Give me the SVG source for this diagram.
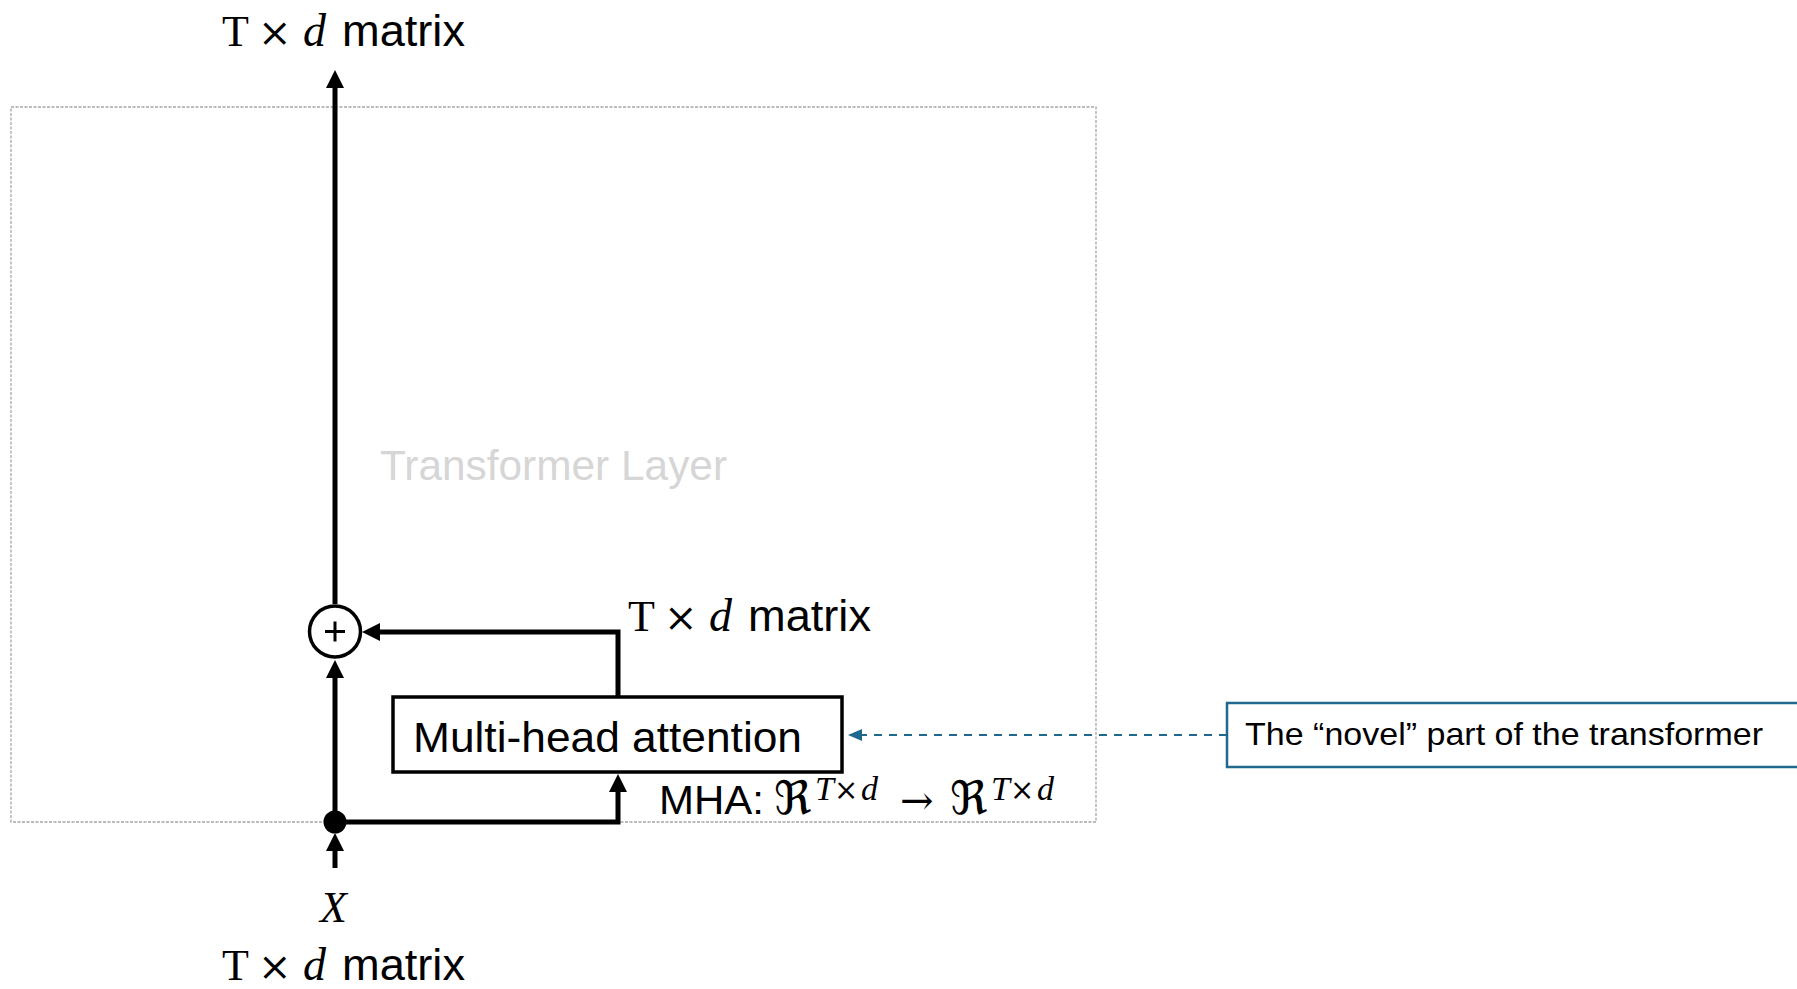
<svg xmlns="http://www.w3.org/2000/svg" width="1797" height="989" viewBox="0 0 1797 989">
  <style>
    .serif { font-family: "Liberation Serif", "DejaVu Serif", serif; fill: #000; }
    .sans { font-family: "Liberation Sans", Arial, sans-serif; fill: #000; }
    .frak { font-family: "DejaVu Serif", "DejaVu Sans", serif; fill: #000; }
    .wire { fill: none; stroke: #000; stroke-width: 5; stroke-linejoin: miter; }
    .note { fill: none; stroke: #1f6a8c; stroke-width: 2; stroke-dasharray: 8 7; }
  </style>
  <defs>
    <marker id="head" markerUnits="userSpaceOnUse" markerWidth="18" markerHeight="18" refX="8" refY="9" orient="auto">
      <path d="M0,0 L18,9 L0,18 Z" fill="#000"/>
    </marker>
    <marker id="headTeal" markerUnits="userSpaceOnUse" markerWidth="14" markerHeight="12" refX="2" refY="6" orient="auto">
      <path d="M0,0 L14,6 L0,12 Z" fill="#1f6a8c"/>
    </marker>
  </defs>

  <rect width="1797" height="989" fill="#fff"/>

  <!-- layer boundary -->
  <g id="transformer-layer">
    <rect x="11" y="107" width="1085" height="715" fill="none" stroke="#a6a6a6" stroke-width="1.3" stroke-dasharray="3 1.5"/>
    <text x="380" y="480" class="sans" font-size="42" style="fill:#d6d6d6" textLength="347" lengthAdjust="spacingAndGlyphs">Transformer Layer</text>
  </g>

  <!-- connectors -->
  <g id="connectors">
    <path class="wire" d="M335,604 L335,80" marker-end="url(#head)"/>
    <path class="wire" d="M335,822 L335,670" marker-end="url(#head)"/>
    <path class="wire" d="M335,868 L335,843" marker-end="url(#head)"/>
    <path class="wire" d="M618,697 L618,632 L372,632" marker-end="url(#head)"/>
    <path class="wire" d="M335,822 L618,822 L618,784" marker-end="url(#head)"/>
    <path class="note" d="M1227,735 L860,735" marker-end="url(#headTeal)"/>
  </g>

  <!-- residual sum -->
  <g id="add">
    <circle cx="335" cy="631.5" r="25.5" fill="#fff" stroke="#000" stroke-width="3.5"/>
    <path d="M325,631.5 H345 M335,621.5 V641.5" stroke="#000" stroke-width="3"/>
  </g>

  <!-- branch point -->
  <g id="split">
    <circle cx="335" cy="822" r="11.5" fill="#000"/>
  </g>

  <!-- attention block -->
  <g id="mha">
    <rect x="393" y="697" width="449" height="75" fill="#fff" stroke="#000" stroke-width="3.5"/>
    <text x="413" y="752" class="sans" font-size="42" textLength="389" lengthAdjust="spacingAndGlyphs">Multi-head attention</text>
  </g>

  <!-- callout -->
  <g id="callout">
    <rect x="1227" y="703" width="600" height="64" fill="#fff" stroke="#1f6a8c" stroke-width="2.5"/>
    <text x="1245" y="745" class="sans" font-size="32" textLength="518" lengthAdjust="spacingAndGlyphs">The “novel” part of the transformer</text>
  </g>

  <!-- output shape label -->
  <g id="label-out">
    <text y="46" font-size="44"><tspan x="222" class="serif">T</tspan><tspan x="258" class="frak" font-size="40">×</tspan><tspan x="303" class="serif" font-style="italic" font-size="46">d</tspan><tspan x="342" class="sans" textLength="123" lengthAdjust="spacingAndGlyphs">matrix</tspan></text>
  </g>

  <!-- attention output shape label -->
  <g id="label-mid">
    <text y="631" font-size="44"><tspan x="628" class="serif">T</tspan><tspan x="664" class="frak" font-size="40">×</tspan><tspan x="709" class="serif" font-style="italic" font-size="46">d</tspan><tspan x="748" class="sans" textLength="123" lengthAdjust="spacingAndGlyphs">matrix</tspan></text>
  </g>

  <!-- input labels -->
  <g id="label-in">
    <text x="320" y="922" class="serif" font-size="44" font-style="italic">X</text>
    <text y="980" font-size="44"><tspan x="222" class="serif">T</tspan><tspan x="258" class="frak" font-size="40">×</tspan><tspan x="303" class="serif" font-style="italic" font-size="46">d</tspan><tspan x="342" class="sans" textLength="123" lengthAdjust="spacingAndGlyphs">matrix</tspan></text>
  </g>

  <!-- attention signature -->
  <g id="label-sig">
    <text x="659" y="814" class="sans" font-size="40" textLength="105" lengthAdjust="spacingAndGlyphs">MHA:</text>
    <text x="774" y="814" class="frak" font-size="46">ℜ</text>
    <text y="800" font-size="34"><tspan x="815" class="serif" font-style="italic">T</tspan><tspan x="834" class="frak" font-size="29">×</tspan><tspan x="861" class="serif" font-style="italic">d</tspan></text>
    <text x="900" y="814" class="frak" font-size="40">→</text>
    <text x="950" y="814" class="frak" font-size="46">ℜ</text>
    <text y="800" font-size="34"><tspan x="991" class="serif" font-style="italic">T</tspan><tspan x="1010" class="frak" font-size="29">×</tspan><tspan x="1037" class="serif" font-style="italic">d</tspan></text>
  </g>
</svg>
